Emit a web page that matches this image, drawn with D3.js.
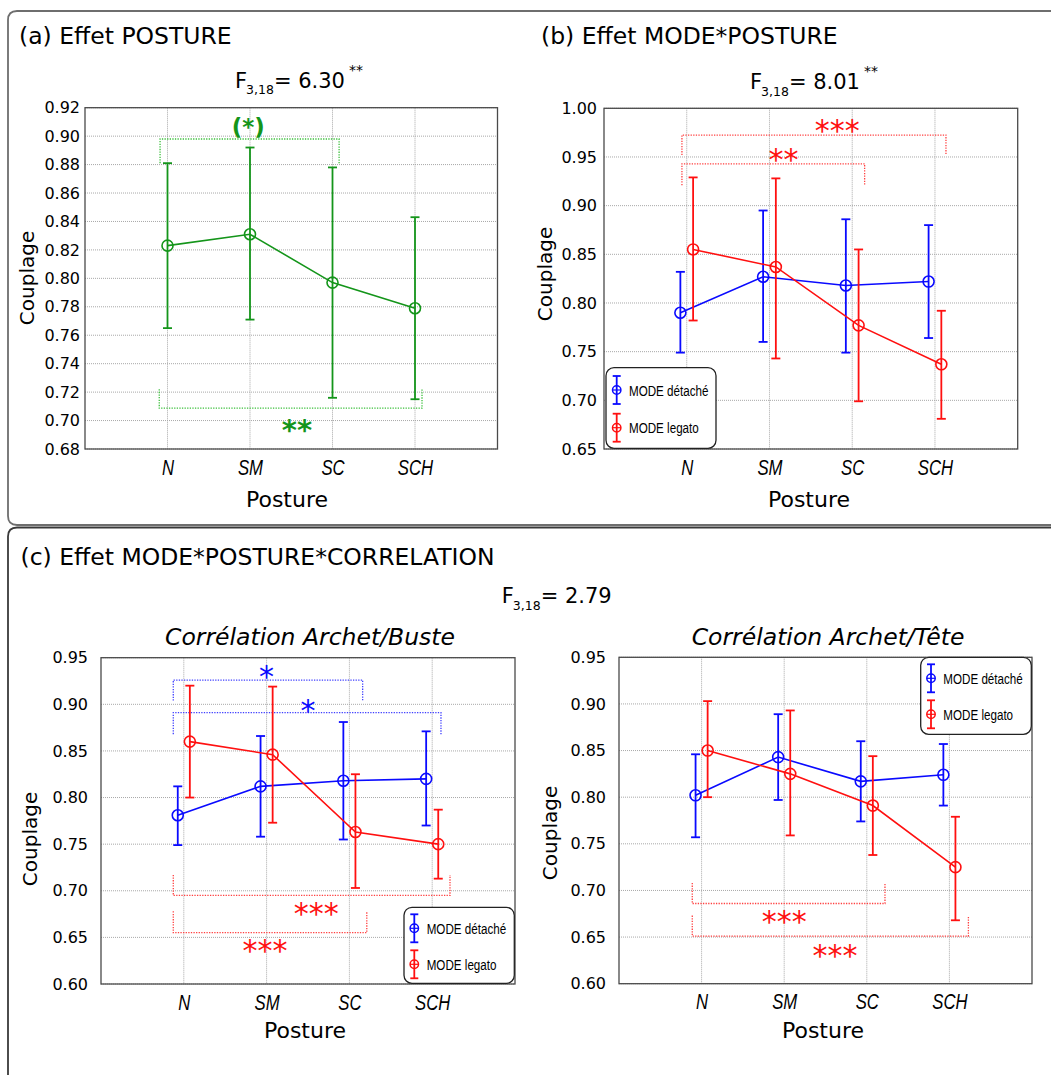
<!DOCTYPE html>
<html>
<head>
<meta charset="utf-8">
<script src="https://cdn.jsdelivr.net/npm/d3@7"></script>
<style>
  body { margin: 0; background: #fff; }
  text { font-family: "DejaVu Sans", sans-serif; fill: #000; }
  .narrow { font-family: "Liberation Sans Narrow", "Liberation Sans", Arial, sans-serif; }
</style>
</head>
<body>
<svg id="chart" width="1051" height="1075"></svg>
<script>
// ---------------- DATA ----------------
const postures = ["N", "SM", "SC", "SCH"];
const seriesNames = ["MODE détaché", "MODE legato"];

// (a) Effet POSTURE
const aMean = [0.823, 0.831, 0.797, 0.779];
const aLow  = [0.765, 0.771, 0.716, 0.715];
const aHigh = [0.881, 0.892, 0.878, 0.843];

// (b) Effet MODE*POSTURE
const bDetMean = [0.790, 0.827, 0.818, 0.822];
const bDetLow  = [0.749, 0.760, 0.749, 0.764];
const bDetHigh = [0.832, 0.895, 0.886, 0.880];
const bLegMean = [0.855, 0.837, 0.777, 0.737];
const bLegLow  = [0.782, 0.743, 0.699, 0.681];
const bLegHigh = [0.929, 0.928, 0.855, 0.792];

// (c) Corrélation Archet/Buste
const cbDetMean = [0.781, 0.812, 0.818, 0.820];
const cbDetLow  = [0.749, 0.758, 0.755, 0.770];
const cbDetHigh = [0.812, 0.866, 0.881, 0.871];
const cbLegMean = [0.860, 0.846, 0.763, 0.750];
const cbLegLow  = [0.800, 0.773, 0.703, 0.713];
const cbLegHigh = [0.920, 0.919, 0.825, 0.787];

// (c) Corrélation Archet/Tête
const ctDetMean = [0.802, 0.843, 0.817, 0.824];
const ctDetLow  = [0.757, 0.797, 0.774, 0.791];
const ctDetHigh = [0.846, 0.889, 0.860, 0.857];
const ctLegMean = [0.850, 0.825, 0.791, 0.725];
const ctLegLow  = [0.800, 0.759, 0.738, 0.668];
const ctLegHigh = [0.903, 0.893, 0.844, 0.779];

// tick values
const yTicksA = [0.68, 0.70, 0.72, 0.74, 0.76, 0.78, 0.80, 0.82, 0.84, 0.86, 0.88, 0.90, 0.92];
const yTicksB = [0.65, 0.70, 0.75, 0.80, 0.85, 0.90, 0.95, 1.00];
const yTicksC = [0.60, 0.65, 0.70, 0.75, 0.80, 0.85, 0.90, 0.95];

// significance brackets (data units: x in category index, y in Couplage)
const bracketsA1 = [
  { x1: 0.91, x2: 3.08, y: 0.898, yEnd: 0.881, label: "(*)", lx: 1.98, ly: 0.906 }
];
const bracketsA2 = [
  { x1: 0.90, x2: 4.085, y: 0.7087, yEnd: 0.722, label: "**", lx: 2.57, ly: 0.698 }
];
const bracketsB = [
  { x1: 0.942, x2: 4.133, y: 0.9725, yEnd: 0.952, label: "***", lx: 2.82, ly: 0.984 },
  { x1: 0.942, x2: 3.15, y: 0.943, yEnd: 0.921, label: "**", lx: 2.17, ly: 0.954 }
];
const bracketsCBblue = [
  { x1: 0.873, x2: 3.16, y: 0.926, yEnd: 0.904, label: "*", lx: 2.0, ly: 0.937 },
  { x1: 0.873, x2: 4.106, y: 0.891, yEnd: 0.868, label: "*", lx: 2.5, ly: 0.901 }
];
const bracketsCBred = [
  { x1: 0.873, x2: 4.215, y: 0.695, yEnd: 0.717, label: "***", lx: 2.6, ly: 0.683 },
  { x1: 0.873, x2: 3.21, y: 0.655, yEnd: 0.678, label: "***", lx: 1.98, ly: 0.6437 }
];
const bracketsCTred = [
  { x1: 0.887, x2: 3.22, y: 0.686, yEnd: 0.708, label: "***", lx: 2.0, ly: 0.6737 },
  { x1: 0.887, x2: 4.23, y: 0.651, yEnd: 0.673, label: "***", lx: 2.615, ly: 0.638 }
];

// ---------------- DRAWING ----------------
const BLUE = "#0a0aff", RED = "#ff1010", GREEN = "#14951a";
const svg = d3.select("#chart");

function condense(sel, factor) {
  sel.each(function () {
    const w = this.getComputedTextLength();
    d3.select(this).attr("textLength", w * factor).attr("lengthAdjust", "spacingAndGlyphs");
  });
}

// panel frames
svg.append("path")
  .attr("d", "M1051,11 L17,11 Q8,11 8,20 L8,516 Q8,525 17,525 L1051,525")
  .attr("fill", "none").attr("stroke", "#6e6e6e").attr("stroke-width", 1.8);
svg.append("path")
  .attr("d", "M1051,527.5 L17,527.5 Q8,527.5 8,536.5 L8,1075")
  .attr("fill", "none").attr("stroke", "#3a3a3a").attr("stroke-width", 1.8);

// panel titles
svg.append("text").attr("x", 19).attr("y", 43.5).style("font-size", "23.5px").text("(a) Effet POSTURE");
svg.append("text").attr("x", 541).attr("y", 43.5).style("font-size", "23.5px").text("(b) Effet MODE*POSTURE");
svg.append("text").attr("x", 20.5).attr("y", 565).style("font-size", "23.5px").text("(c) Effet MODE*POSTURE*CORRELATION");

function fStat(x, y, value, stars) {
  const t = svg.append("text").attr("x", x).attr("y", y).style("font-size", "21px");
  t.append("tspan").text("F");
  t.append("tspan").attr("dy", 6.5).attr("dx", -1).style("font-size", "12.5px").text("3,18");
  t.append("tspan").attr("dy", -6.5).text("= " + value);
  if (stars) t.append("tspan").attr("dx", 4).attr("dy", -13).style("font-size", "14px").text(stars);
}
fStat(235, 87.7, "6.30", "**");
fStat(750, 89, "8.01", "**");
fStat(501.7, 603.3, "2.79", null);

function makePanel(opts) {
  const { left, top, width, height, domain, ticks, tickGap } = opts;
  const x = d3.scaleLinear().domain([0, 5]).range([left, left + width]);
  const y = d3.scaleLinear().domain(domain).range([top + height, top]);
  const g = svg.append("g");

  // grid
  g.append("g").selectAll("line.h").data(ticks).join("line")
    .attr("x1", left).attr("x2", left + width)
    .attr("y1", d => y(d)).attr("y2", d => y(d))
    .attr("stroke", "#a8a8a8").attr("stroke-width", 1).attr("stroke-dasharray", "1,1");
  g.append("g").selectAll("line.v").data(postures).join("line")
    .attr("x1", (d, i) => x(i + 1)).attr("x2", (d, i) => x(i + 1))
    .attr("y1", top).attr("y2", top + height)
    .attr("stroke", "#a8a8a8").attr("stroke-width", 1).attr("stroke-dasharray", "1,1");

  // frame
  g.append("rect").attr("x", left).attr("y", top).attr("width", width).attr("height", height)
    .attr("fill", "none").attr("stroke", "#4a4a4a").attr("stroke-width", 1.3);

  // y axis labels
  const yAxis = d3.axisLeft(y).tickValues(ticks).tickFormat(d3.format(".2f")).tickSize(0).tickPadding(tickGap);
  const ya = g.append("g").attr("transform", `translate(${left},0)`).call(yAxis);
  ya.select(".domain").remove();
  ya.selectAll("text").style("font-size", "16px").style("font-family", "DejaVu Sans, sans-serif").attr("fill", "#000");

  // x axis labels
  const xAxis = d3.axisBottom(x).tickValues([1, 2, 3, 4]).tickFormat(d => postures[d - 1]).tickSize(0).tickPadding(10);
  const xa = g.append("g").attr("transform", `translate(0,${top + height})`).call(xAxis);
  xa.select(".domain").remove();
  const xt = xa.selectAll("text").attr("class", "narrow").style("font-size", "22px").style("font-style", "italic")
    .style("font-family", "Liberation Sans, Arial, sans-serif").attr("fill", "#000");
  condense(xt, 0.76);

  return { x, y, g };
}

function axisTitles(cx, cy, px, py) {
  svg.append("text").attr("transform", `translate(${cx},${cy}) rotate(-90)`)
    .attr("text-anchor", "middle").style("font-size", "20px").text("Couplage");
  svg.append("text").attr("x", px).attr("y", py).attr("text-anchor", "middle")
    .style("font-size", "22px").text("Posture");
}

function drawSeries(p, means, lows, highs, offset, color) {
  const pts = means.map((m, i) => ({ xv: i + 1 + offset, m, lo: lows[i], hi: highs[i] }));
  const g = p.g.append("g");
  const cap = 4.5;
  g.selectAll("line.eb").data(pts).join("line")
    .attr("x1", d => p.x(d.xv)).attr("x2", d => p.x(d.xv))
    .attr("y1", d => p.y(d.lo)).attr("y2", d => p.y(d.hi))
    .attr("stroke", color).attr("stroke-width", 1.8);
  g.selectAll("line.ct").data(pts).join("line")
    .attr("x1", d => p.x(d.xv) - cap).attr("x2", d => p.x(d.xv) + cap)
    .attr("y1", d => p.y(d.hi)).attr("y2", d => p.y(d.hi))
    .attr("stroke", color).attr("stroke-width", 1.8);
  g.selectAll("line.cb").data(pts).join("line")
    .attr("x1", d => p.x(d.xv) - cap).attr("x2", d => p.x(d.xv) + cap)
    .attr("y1", d => p.y(d.lo)).attr("y2", d => p.y(d.lo))
    .attr("stroke", color).attr("stroke-width", 1.8);
  const line = d3.line().x(d => p.x(d.xv)).y(d => p.y(d.m));
  g.append("path").datum(pts).attr("d", line).attr("fill", "none")
    .attr("stroke", color).attr("stroke-width", 1.6);
  g.selectAll("circle").data(pts).join("circle")
    .attr("cx", d => p.x(d.xv)).attr("cy", d => p.y(d.m)).attr("r", 5.5)
    .attr("fill", "none").attr("stroke", color).attr("stroke-width", 1.6);
}

function drawBrackets(p, list, color, textColor, fs, bold) {
  const g = p.g.append("g");
  list.forEach(b => {
    const x1 = p.x(b.x1), x2 = p.x(b.x2), yb = p.y(b.y), ye = p.y(b.yEnd);
    g.append("path").attr("d", `M${x1},${ye} L${x1},${yb} L${x2},${yb} L${x2},${ye}`)
      .attr("fill", "none").attr("stroke", color).attr("stroke-width", 1.3)
      .attr("stroke-dasharray", "1.3,1.3");
    const isParen = b.label.indexOf("(") >= 0;
    const shift = isParen ? 0.33 * fs : 0.58 * fs;
    g.append("text").attr("x", p.x(b.lx)).attr("y", p.y(b.ly) + shift)
      .attr("text-anchor", "middle").style("font-size", fs + "px")
      .style("font-weight", bold ? "bold" : "normal").style("fill", textColor)
      .text(b.label);
  });
}

function legendMarker(g, cx, cy, halfBar, color) {
  g.append("line").attr("x1", cx).attr("x2", cx).attr("y1", cy - halfBar).attr("y2", cy + halfBar)
    .attr("stroke", color).attr("stroke-width", 1.8);
  [cy - halfBar, cy + halfBar].forEach(yy =>
    g.append("line").attr("x1", cx - 4).attr("x2", cx + 4).attr("y1", yy).attr("y2", yy)
      .attr("stroke", color).attr("stroke-width", 1.8));
  g.append("circle").attr("cx", cx).attr("cy", cy).attr("r", 4.2)
    .attr("fill", "none").attr("stroke", color).attr("stroke-width", 1.5);
  g.append("line").attr("x1", cx - 4.2).attr("x2", cx + 4.2).attr("y1", cy).attr("y2", cy)
    .attr("stroke", color).attr("stroke-width", 1.2);
}

function drawLegend(bx, by, bw, bh, mx, rows, tx) {
  const g = svg.append("g");
  g.append("rect").attr("x", bx).attr("y", by).attr("width", bw).attr("height", bh)
    .attr("rx", 8).attr("ry", 8).attr("fill", "#fff").attr("stroke", "#222").attr("stroke-width", 1.3);
  const colors = [BLUE, RED];
  rows.forEach((ry, i) => {
    legendMarker(g, mx, ry, 14, colors[i]);
    const t = g.append("text").attr("class", "narrow").attr("x", tx).attr("y", ry + 5.5)
      .style("font-size", "15.5px").style("font-family", "Liberation Sans, Arial, sans-serif")
      .text(seriesNames[i]);
    condense(t, 0.75);
  });
}

// ---- Panel (a)
const pA = makePanel({ left: 85, top: 107.7, width: 412.5, height: 341.3, domain: [0.68, 0.92], ticks: yTicksA, tickGap: 5 });
drawBrackets(pA, bracketsA1, "#3cc03c", GREEN, 23, true);
drawBrackets(pA, bracketsA2, "#3cc03c", GREEN, 29, true);
drawSeries(pA, aMean, aLow, aHigh, 0, GREEN);
axisTitles(33.5, 278, 287, 507);

// ---- Panel (b)
const pB = makePanel({ left: 604, top: 108.3, width: 413.7, height: 340.7, domain: [0.65, 1.00], ticks: yTicksB, tickGap: 7 });
drawBrackets(pB, bracketsB, "#ff4040", RED, 30, false);
drawSeries(pB, bDetMean, bDetLow, bDetHigh, -0.077, BLUE);
drawSeries(pB, bLegMean, bLegLow, bLegHigh, 0.077, RED);
axisTitles(552, 274, 809, 507);
drawLegend(606, 367.7, 110, 80.6, 616.7, [390, 427.7], 629);

// ---- Panel (c) left
svg.append("text").attr("x", 310).attr("y", 645).attr("text-anchor", "middle")
  .style("font-size", "23.5px").style("font-style", "italic").text("Corrélation Archet/Buste");
const pCB = makePanel({ left: 101, top: 657.7, width: 414, height: 326.3, domain: [0.60, 0.95], ticks: yTicksC, tickGap: 13 });
drawBrackets(pCB, bracketsCBblue, "#4040ff", BLUE, 30, false);
drawBrackets(pCB, bracketsCBred, "#ff4040", RED, 30, false);
drawSeries(pCB, cbDetMean, cbDetLow, cbDetHigh, -0.073, BLUE);
drawSeries(pCB, cbLegMean, cbLegLow, cbLegHigh, 0.073, RED);
axisTitles(37, 839, 305, 1038);
drawLegend(404, 907.3, 110.3, 76, 414.3, [928.3, 964.3], 426.7);

// ---- Panel (c) right
svg.append("text").attr("x", 828).attr("y", 645).attr("text-anchor", "middle")
  .style("font-size", "23.5px").style("font-style", "italic").text("Corrélation Archet/Tête");
const pCT = makePanel({ left: 619, top: 657.3, width: 413, height: 326.4, domain: [0.60, 0.95], ticks: yTicksC, tickGap: 13 });
drawBrackets(pCT, bracketsCTred, "#ff4040", RED, 30, false);
drawSeries(pCT, ctDetMean, ctDetLow, ctDetHigh, -0.073, BLUE);
drawSeries(pCT, ctLegMean, ctLegLow, ctLegHigh, 0.073, RED);
axisTitles(557, 833, 823, 1038);
drawLegend(920.7, 657.3, 110.6, 77, 931, [678.3, 714.3], 943.3);
</script>
</body>
</html>
